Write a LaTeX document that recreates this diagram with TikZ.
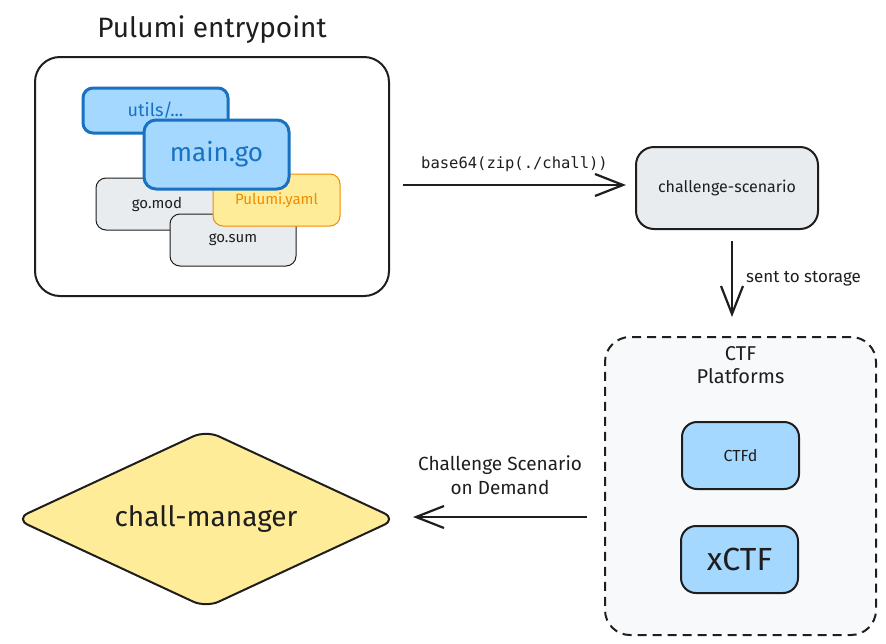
\documentclass[tikz,border=0pt]{standalone}
\usepackage{fontspec}
\setmainfont{Fira Sans}
\setmonofont{DejaVu Sans Mono}
\usetikzlibrary{arrows.meta,shapes.geometric,calc}
\definecolor{bluefill}{HTML}{A5D8FF}
\definecolor{bluestroke}{HTML}{1971C2}
\definecolor{grayfill}{HTML}{E9ECEF}
\definecolor{ink}{HTML}{1E1E1E}
\definecolor{yellowfill}{HTML}{FFEC99}
\definecolor{orangestroke}{HTML}{F08C00}
\definecolor{panelfill}{HTML}{F8F9FA}
\newcommand{\fs}[2]{\fontsize{#1}{#2}\selectfont}
\begin{document}
\begin{tikzpicture}[x=1pt,y=-1pt,
  box/.style={rectangle, inner sep=0pt, text=ink},
  bluebox/.style={box, draw=bluestroke, fill=bluefill, line width=3pt, text=bluestroke},
  graybox/.style={box, draw=ink, fill=grayfill, line width=1pt},
  yellowbox/.style={box, draw=orangestroke, fill=yellowfill, line width=1pt, text=orangestroke},
  arr/.style={draw=ink, line width=2.2pt, -{Straight Barb[length=28pt,width=22pt,line width=2.2pt]}},
  lbl/.style={text=ink, inner sep=0pt}
]
\useasboundingbox (0,0) rectangle (886,643);

% Pulumi entrypoint
\node[box, draw=ink, fill=white, line width=2pt, rounded corners=25pt,
      minimum width=354pt, minimum height=239pt] (entry) at (212,176.5) {};
\node[lbl, font=\fs{28}{33}, above=12pt] (title) at (entry.north) {Pulumi entrypoint};

\node[bluebox, rounded corners=10pt, minimum width=145pt, minimum height=45pt,
      font=\fs{18}{21}] (utils) at (155.5,110.5) {utils/...};
\node[graybox, rounded corners=10pt, minimum width=122pt, minimum height=52pt,
      font=\fs{15}{18}] (gomod) at (157,204) {go.mod};
\node[graybox, rounded corners=10pt, minimum width=126pt, minimum height=52pt,
      font=\fs{15}{18}] (gosum) at (233,240) {go.sum};
\node[yellowbox, rounded corners=10pt, minimum width=127pt, minimum height=52pt,
      font=\fs{15}{18}] (pulumi) at (276.5,200) {\raisebox{3pt}{Pulumi.yaml}};
\node[bluebox, rounded corners=12pt, minimum width=145pt, minimum height=69pt,
      font=\fs{26}{31}] (main) at (216.5,154.5) {main.go};

% challenge-scenario
\node[box, draw=ink, fill=grayfill, line width=2pt, rounded corners=18pt,
      minimum width=182pt, minimum height=82pt, font=\fs{16}{19}] (scen) at (727,188) {challenge-scenario};

% CTF platforms
\node[box, draw=ink, fill=panelfill, line width=2pt, dash pattern=on 9pt off 6pt,
      rounded corners=25pt, minimum width=271pt, minimum height=298pt] (ctf) at (740.5,486) {};
\node[lbl, font=\fs{20}{23}, align=center, below=10pt] (ctftitle) at (ctf.north) {CTF\\Platforms};
\node[box, draw=ink, fill=bluefill, line width=2pt, rounded corners=15pt,
      minimum width=117pt, minimum height=67pt, font=\fs{16}{19}] (ctfd) at (740.5,455.5) {CTFd};
\node[box, draw=ink, fill=bluefill, line width=2pt, rounded corners=15pt,
      minimum width=117pt, minimum height=67pt, font=\fs{32}{38}] (xctf) at (739.5,559.5) {xCTF};

% chall-manager
\node[diamond, aspect=2.15, draw=ink, fill=yellowfill, line width=2pt, rounded corners=14pt, inner sep=0pt,
      minimum width=382pt, minimum height=178pt, font=\fs{28}{33}, text=ink] (cm) at (206,519) {chall-manager};

% connectors
\draw[arr] ($(entry.east |- scen.west)+(13,-3)$) -- ($(scen.west)+(-9,-3)$)
  node[midway, above=12pt, font=\ttfamily\fs{15.5}{18}, text=ink, inner sep=0pt] {base64(zip(./chall))};
\draw[arr] ($(scen.south)+(5,11)$) -- ($(scen.south |- ctf.north)+(5,-19)$)
  node[midway, right=13pt, font=\fs{17}{20}, text=ink, inner sep=0pt] {sent to storage};
\draw[arr] ($(ctf.west |- cm.east)+(-17,-2)$) -- ($(cm.east)+(15,-2)$)
  node[midway, above=21pt, font=\fs{19}{24}, align=center, text=ink, inner sep=0pt] {Challenge Scenario\\on Demand};
\end{tikzpicture}
\end{document}
